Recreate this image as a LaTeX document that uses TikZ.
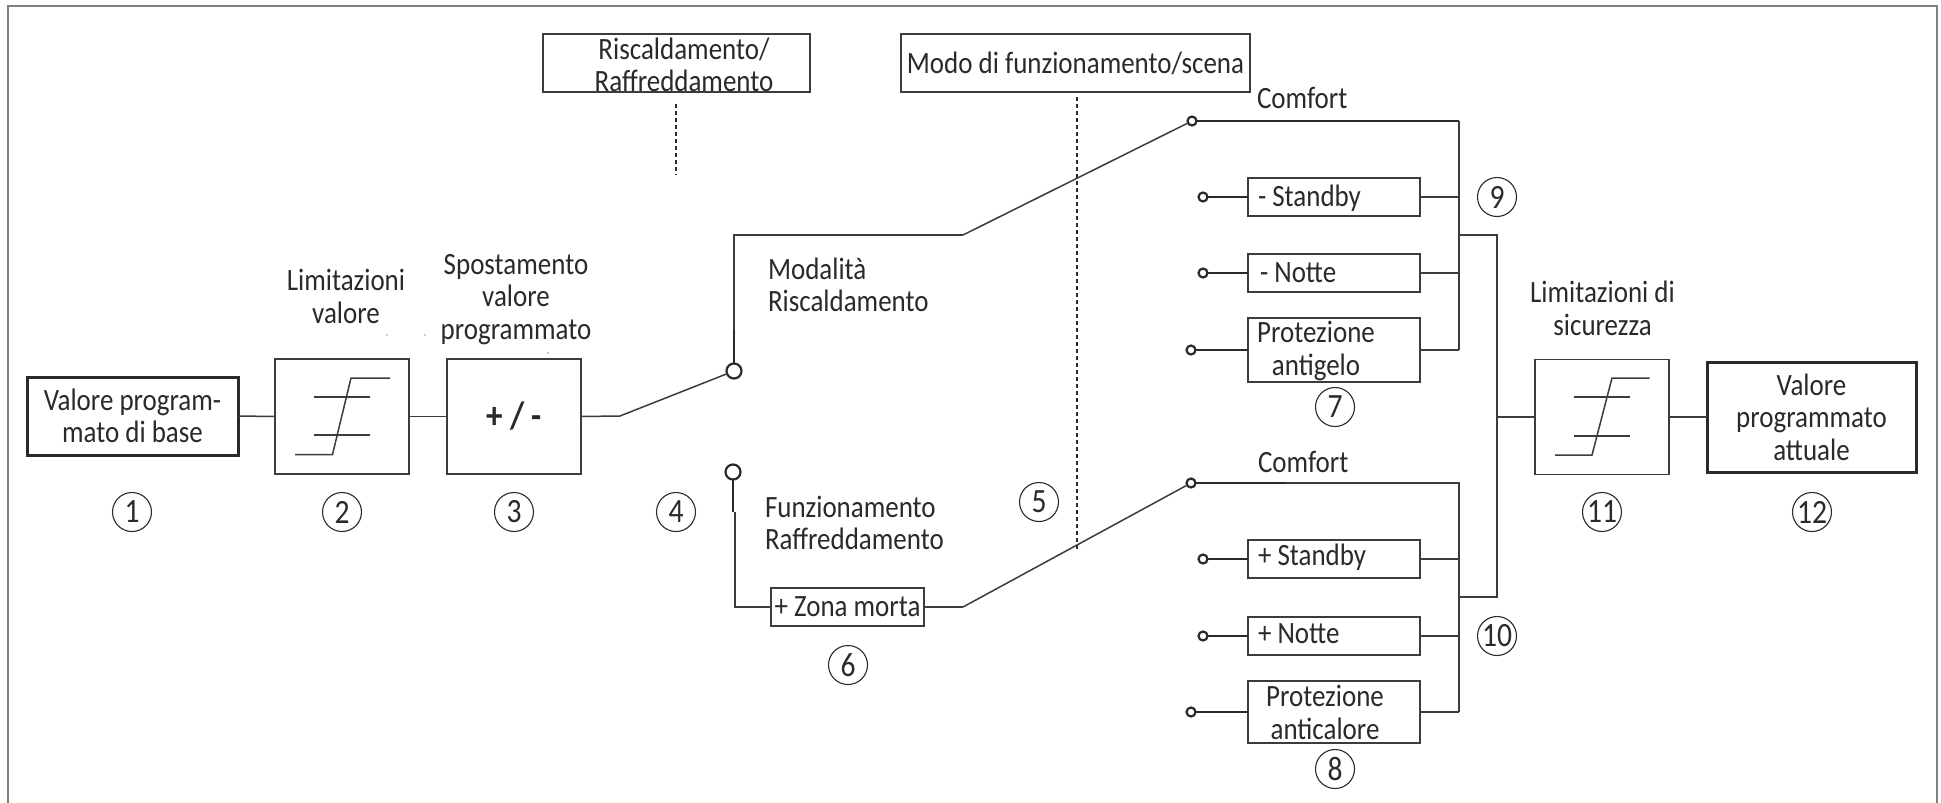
\documentclass[tikz,border=0pt]{standalone}
\usepackage{fontspec}
\setmainfont{Carlito}[FakeStretch=0.87]
\definecolor{ink}{HTML}{2A2A2A}
\definecolor{wire}{HTML}{3C3C3C}
\definecolor{frameline}{HTML}{808080}
\tikzset{
  every node/.style={text=ink,font=\fontsize{31}{32.5}\selectfont,inner sep=0pt,outer sep=0pt},
  thinbox/.style={draw=wire,line width=1.3pt,fill=white,rectangle,align=center},
  boldbox/.style={draw=ink,line width=3pt,fill=white,rectangle,align=center},
  wireline/.style={draw=wire,line width=1.5pt},
  heavyline/.style={draw=ink,line width=2.4pt},
  midline/.style={draw=ink,line width=1.8pt},
  dotline/.style={draw=ink,line width=2.2pt,dash pattern=on 3.5pt off 3.5pt},
  bigterm/.style={circle,draw=ink,line width=2.2pt,fill=white,minimum size=15pt},
  smallterm/.style={circle,draw=ink,line width=2.2pt,fill=white,minimum size=9pt},
  numtag/.style={circle,draw=ink,line width=1.1pt,minimum size=39pt,font=\fontsize{34}{34}\selectfont},
  txt/.style={align=center},
  txtl/.style={anchor=west,align=left},
}
\begin{document}
\begin{tikzpicture}[x=1pt,y=-1pt]
\useasboundingbox (0,0) rectangle (1941,803);
\fill[white] (0,0) rectangle (1941,803);
\draw[frameline,line width=1.5pt] (8,803) -- (8,6) -- (1937,6) -- (1937,803);

% top boxes
\node[thinbox,minimum width=267pt,minimum height=58pt] (heat) at (676.5,63) {};
\node[txt] (heatt) at (684,65) {Riscaldamento/\\Raffreddamento};
\node[thinbox,minimum width=349pt,minimum height=58pt] (mode) at (1075.5,63) {Modo di funzionamento/scena};
\coordinate (d1a) at (676,104); \coordinate (d1b) at (676,175);
\coordinate (d2a) at (1077,97); \coordinate (d2b) at (1077,550);
\draw[dotline] (d1a) -- (d1b);
\draw[dotline] (d2a) -- (d2b);

% left chain
\node[boldbox,minimum width=211pt,minimum height=78pt] (base) at (132.5,416) {Valore program-\\mato di base};
\node[thinbox,minimum width=134pt,minimum height=115pt] (lim) at (342,416.5) {};
\node[thinbox,minimum width=134pt,minimum height=115pt] (shift) at (514,416.5) {\fontsize{38}{38}\selectfont\textbf{+ / -}};
\draw[wireline] (base.east) -- (lim.west);
\draw[wireline] (lim.east) -- (shift.west);
\draw[wireline] (295,454.5) -- (332.5,454.5) -- (351,378) -- (390,378);
\draw[wireline] (314,397) -- (370,397) (314,435) -- (370,435);
\node[txt] (t2) at (346,296.5) {Limitazioni\\valore};
\node[txt] (t3) at (516,299.5) {Spostamento\\valore\\programmato};
\fill[ink] (387,335) circle (0.7pt) (425,335) circle (0.7pt) (548,353) circle (0.7pt);

% switch
\node[bigterm] (sw1) at (734,371) {};
\node[bigterm] (sw2) at (733,472) {};
\coordinate (k0) at (620,416);
\coordinate (k1) at (734,235);
\coordinate (k2) at (963,235);
\coordinate (s1) at (734,330);
\coordinate (s2) at (733,512);
\draw[wireline] (shift.east) -- (k0) -- (sw1);
\draw[midline] (sw1) -- (s1);
\draw[wireline] (s1) -- (k1) -- (k2);
\node[txtl] (t4a) at (768,285) {Modalità\\Riscaldamento};
\node[txtl] (t4b) at (765,523) {Funzionamento\\Raffreddamento};
\node[thinbox,minimum width=153pt,minimum height=38pt] (dead) at (847.5,607) {+ Zona morta};
\coordinate (k3) at (735,607);
\coordinate (k4) at (963,607);
\draw[midline] (sw2) -- (s2);
\draw[wireline] (s2 -| k3) -- (k3) -- (dead.west);
\draw[wireline] (dead.east) -- (k4);

% upper group
\coordinate (bus1) at (1459,121);
\coordinate (bus1e) at (1459,350);
\coordinate (j1) at (1459,235);
\node[smallterm] (c1) at (1192,121) {};
\node[smallterm] (c2) at (1203,197) {};
\node[smallterm] (c3) at (1203,273) {};
\node[smallterm] (c4) at (1191,350) {};
\node[thinbox,minimum width=172pt,minimum height=64pt] (pr1) at (1334,350) {};
\node[thinbox,minimum width=172pt,minimum height=38pt] (sb1) at (1334,197) {};
\node[thinbox,minimum width=172pt,minimum height=38pt] (nt1) at (1334,273) {};
\node[txtl] (sb1t) at (1258,198) {- Standby};
\node[txtl] (nt1t) at (1260,273) {- Notte};
\node[txt] (pr1t) at (1316,351) {Protezione\\antigelo};
\node[txtl] (cm1) at (1257,98) {Comfort};
\draw[wireline] (k2) -- (c1);
\draw[heavyline] (c1) -- (bus1);
\draw[wireline] (bus1) -- (bus1e);
\draw[heavyline] (c2) -- (sb1.west);
\draw[heavyline] (c3) -- (nt1.west);
\draw[heavyline] (c4) -- (pr1.west);
\draw[wireline] (sb1.east) -- (sb1.east -| bus1);
\draw[wireline] (nt1.east) -- (nt1.east -| bus1);
\draw[wireline] (pr1.east) -- (bus1e);

% lower group
\coordinate (bus2) at (1459,483);
\coordinate (bus2e) at (1459,712);
\coordinate (j2) at (1459,597);
\coordinate (h2) at (1286,483);
\node[smallterm] (c5) at (1191,483) {};
\node[smallterm] (c6) at (1203,559) {};
\node[smallterm] (c7) at (1203,636) {};
\node[smallterm] (c8) at (1191,712) {};
\node[thinbox,minimum width=172pt,minimum height=38pt] (sb2) at (1334,559) {};
\node[thinbox,minimum width=172pt,minimum height=38pt] (nt2) at (1334,636) {};
\node[thinbox,minimum width=172pt,minimum height=62pt] (pr2) at (1334,712) {};
\node[txtl] (sb2t) at (1258,557) {+ Standby};
\node[txtl] (nt2t) at (1258,634) {+ Notte};
\node[txt] (pr2t) at (1325,712.5) {Protezione\\anticalore};
\node[txtl] (cm2) at (1258,462) {Comfort};
\draw[wireline] (k4) -- (c5);
\draw[heavyline] (c5) -- (h2);
\draw[wireline] (h2) -- (bus2) -- (bus2e);
\draw[heavyline] (c6) -- (sb2.west);
\draw[heavyline] (c7) -- (nt2.west);
\draw[heavyline] (c8) -- (pr2.west);
\draw[wireline] (sb2.east) -- (sb2.east -| bus2);
\draw[wireline] (nt2.east) -- (nt2.east -| bus2);
\draw[wireline] (pr2.east) -- (bus2e);

% right chain
\coordinate (r1) at (1497,235);
\coordinate (r2) at (1497,597);
\coordinate (r3) at (1497,417);
\draw[wireline] (j1) -- (r1) -- (r2) -- (j2);
\node[thinbox,minimum width=134pt,minimum height=115pt] (safe) at (1602,417) {};
\node[boldbox,minimum width=209pt,minimum height=110pt] (act) at (1811.5,417) {Valore\\programmato\\attuale};
\draw[wireline] (r3) -- (safe.west);
\draw[wireline] (safe.east) -- (act.west);
\draw[wireline] (1555,455) -- (1592,455) -- (1612,378) -- (1649.5,378);
\draw[wireline] (1574,397) -- (1630,397) (1574,436) -- (1630,436);
\node[txt] (t11) at (1602.5,308.5) {Limitazioni di\\sicurezza};

% numbered tags
\node[numtag] (n1) at (132,512) {1};
\node[numtag] (n2) at (342,512) {2};
\node[numtag] (n3) at (514,512) {3};
\node[numtag] (n4) at (676,512) {4};
\node[numtag] (n5) at (1039,502) {5};
\node[numtag] (n6) at (848,665) {6};
\node[numtag] (n7) at (1335,407) {7};
\node[numtag] (n8) at (1335,769) {8};
\node[numtag] (n9) at (1497,197) {9};
\node[numtag] (n10) at (1497,636) {10};
\node[numtag] (n11) at (1602,512) {11};
\node[numtag] (n12) at (1812,512) {12};
\end{tikzpicture}
\end{document}
